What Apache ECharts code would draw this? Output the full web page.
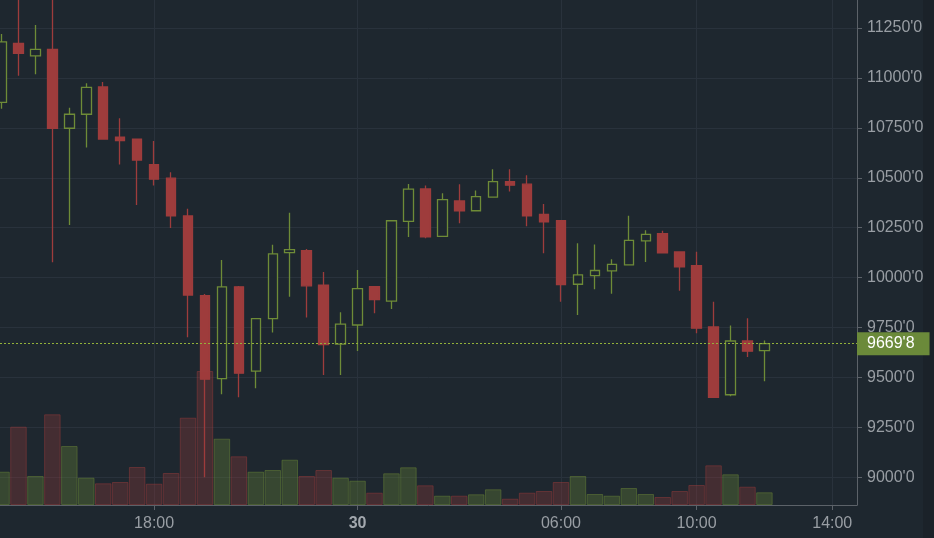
<!DOCTYPE html>
<html><head><meta charset="utf-8">
<script src="https://cdn.jsdelivr.net/npm/echarts@6/dist/echarts.min.js"></script>
<style>html,body{margin:0;padding:0;background:#1e272f;}#c{width:934px;height:538px;}</style>
</head><body><div id="c"></div>
<script>
// 30-minute candles, starting 29th 13:30
const startDay = 29;
const times = ["13:30","14:00","14:30","15:00","15:30","16:00","16:30","17:00","17:30","18:00","18:30","19:00","19:30","20:00","20:30","21:00","21:30","22:00","22:30","23:00","23:30",
  "00:00","00:30","01:00","01:30","02:00","02:30","03:00","03:30","04:00","04:30","05:00","05:30","06:00","06:30","07:00","07:30","08:00","08:30","09:00","09:30","10:00","10:30","11:00","11:30","12:00"];
const opens  = [10878,11173,11110,11143,10748,10818,10955,10703,10693,10566,10498,10309,9910,9495,9954,9532,9795,10125,10135,9962,9667,9763,9955,9883,10282,10444,10207,10384,10335,10403,10481,10468,10317,10285,9967,10010,10034,10064,10184,10220,10129,10060,9753,9414,9683,9635];
const closes = [11180,11123,11143,10748,10818,10953,10694,10686,10589,10493,10309,9913,9492,9954,9522,9795,10119,10140,9959,9665,9767,9945,9890,10285,10443,10204,10391,10334,10406,10481,10463,10310,10280,9965,10014,10036,10067,10187,10217,10124,10054,9747,9401,9683,9632,9669.8];
const lows   = [10845,11011,11018,10077,10264,10651,10690,10566,10364,10461,10249,9702,9001,9416,9401,9446,9725,9905,9800,9513,9513,9633,9822,9843,10204,10197,10205,10272,10333,10401,10431,10257,10122,9880,9813,9942,9919,10062,10079,10122,9934,9722,9399,9406,9603,9482];
const highs  = [11220,11465,11265,11540,10851,10973,10980,10798,10695,10684,10528,10345,9918,10089,9958,9797,10165,10325,10144,10029,9827,10039,9958,10288,10469,10461,10423,10468,10436,10543,10543,10513,10369,10288,10172,10166,10092,10310,10237,10235,10131,10130,9880,9760,9797,9685];
const volumes= [333,783,290,907,590,273,217,230,380,213,320,873,1340,663,487,333,350,453,290,350,273,243,123,317,377,197,93,93,107,157,63,123,140,230,290,110,93,170,110,80,140,200,397,307,183,127];
const priceTicks = [9000,9250,9500,9750,10000,10250,10500,10750,11000,11250];
const tickDays  = [29, 30, 30, 30, 30];
const tickTimes = ["18:00","00:00","06:00","10:00","14:00"];
const tickLabels = ["18:00","30","06:00","10:00","14:00"];
const lastPrice = 9669.8;

const UP = '#6e8b37', DOWN = '#9e3c3c', BG = '#1e272f';
const FONT = 'Liberation Sans, Arial, sans-serif';
function mins(t){const p=t.split(':');return (+p[0])*60+(+p[1]);}
function slotOf(day, t){ return ((day-startDay)*1440 + mins(t) - mins(times[0]))/30; }
const tickSlots = tickTimes.map((t,i)=>slotOf(tickDays[i], t));
const labelBySlot = {}; tickSlots.forEach((s,i)=>labelBySlot[s]=tickLabels[i]);

const candleData = times.map((t,i)=>[i, opens[i], closes[i], lows[i], highs[i]]);
const volData = times.map((t,i)=>{
  const up = closes[i] >= opens[i];
  return {value:[i, volumes[i]], itemStyle:{
    color: up ? 'rgba(110,139,55,0.32)' : 'rgba(158,60,60,0.30)',
    borderColor: up ? 'rgba(110,139,55,0.45)' : 'rgba(158,60,60,0.45)', borderWidth:1}};
});
const fmtPrice = v => Number(v).toFixed(1).replace('.', "'");

const chart = echarts.init(document.getElementById('c'), null, {renderer:'canvas'});
chart.setOption({
  backgroundColor:BG,
  animation:false,
  grid:{left:0, right:77, top:0, bottom:33},
  xAxis:{type:'value', min:-0.09, max:50.46,
    axisLine:{show:true, onZero:false, lineStyle:{color:'#5c6269', width:1}},
    axisTick:{show:true, length:5, customValues:tickSlots, lineStyle:{color:'#5c6269'}},
    splitLine:{show:true, lineStyle:{color:'#29323c', width:1}},
    axisLabel:{customValues:tickSlots, margin:11, color:'#999ea4', fontSize:16, fontFamily:FONT,
      formatter:v=>{const l=labelBySlot[v]; return l==='30' ? '{b|30}' : (l||'');},
      rich:{b:{fontWeight:'bold', fontSize:16, color:'#a3a8ae', fontFamily:FONT}}}
  },
  yAxis:[{type:'value', position:'right', min:8862, max:11390, scale:true,
    axisLine:{show:true, onZero:false, lineStyle:{color:'#5c6269'}},
    axisTick:{show:true, length:5, customValues:priceTicks, lineStyle:{color:'#5c6269'}},
    splitLine:{show:true, lineStyle:{color:'#29323c'}},
    axisLabel:{customValues:priceTicks, margin:10, color:'#999ea4', fontSize:16, fontFamily:FONT, formatter:fmtPrice}
  },{type:'value', min:0, max:5050, show:false}],
  graphic:[{type:'rect', z:1, shape:{x:923, y:0, width:11, height:538}, style:{fill:'#1b2229'}}],
  series:[{
    type:'candlestick', data:candleData, encode:{x:0, y:[1,2,3,4]}, barWidth:10, z:2,
    itemStyle:{color:BG, color0:DOWN, borderColor:UP, borderColor0:DOWN, borderWidth:1.3},
    markLine:{symbol:'none', silent:true, animation:false, z:10,
      lineStyle:{color:'#93b23a', type:[2,2], width:1, opacity:1},
      label:{position:'end', distance:0, formatter:()=>fmtPrice(lastPrice), color:'#ffffff',
        backgroundColor:'#6b8a3a', padding:[4,15,3,10], fontSize:16, fontFamily:FONT},
      emphasis:{disabled:true},
      data:[{yAxis:lastPrice}]}
  },{
    type:'bar', data:volData, yAxisIndex:1, barWidth:16.5, z:3
  }]
});
</script></body></html>
